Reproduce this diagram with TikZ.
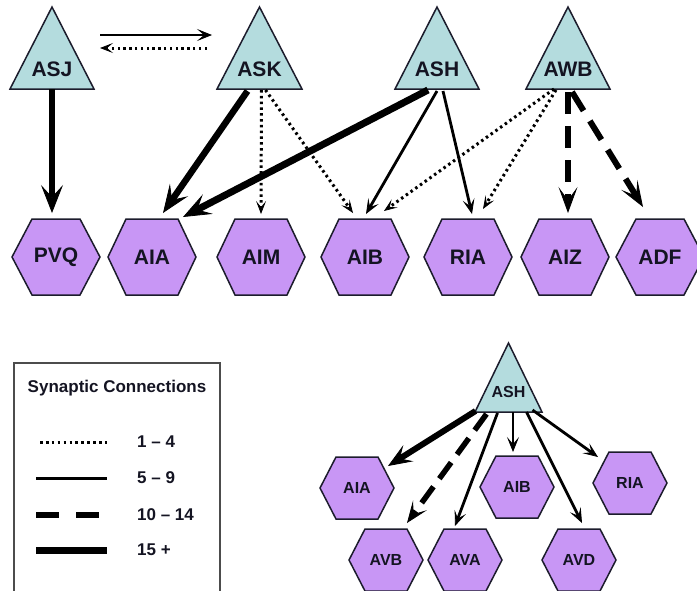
\documentclass[tikz,border=0pt]{standalone}
\usepackage{fontspec}
\setmainfont{Liberation Sans}
\usetikzlibrary{arrows.meta,calc}
\definecolor{trifill}{HTML}{B4DCDE}
\definecolor{hexfill}{HTML}{C896F5}
\definecolor{edgec}{HTML}{1C1C2C}
\definecolor{txtc}{HTML}{141422}
\tikzset{
  boxsty/.style={rectangle, inner sep=0pt, outer sep=0pt, draw=none},
  tristy/.style={fill=trifill, draw=edgec, line width=1.5pt, line join=miter},
  hexsty/.style={fill=hexfill, draw=edgec, line width=1.5pt, line join=miter},
  biglab/.style={font=\fontsize{21}{23}\selectfont\bfseries, text=txtc, inner sep=0pt},
  smalllab/.style={font=\fontsize{16}{18}\selectfont\bfseries, text=txtc, inner sep=0pt},
  leglab/.style={font=\fontsize{17}{19}\selectfont\bfseries, text=txtc, inner sep=0pt},
  conn/.style={draw=black, line cap=butt},
  dotc/.style={conn, line width=3pt, dash pattern=on 2.5pt off 3.3pt, -{Stealth[length=13pt,width=10pt,inset=6pt,line width=0.8pt]}},
  solc/.style={conn, line width=2.8pt, -{Stealth[length=15pt,width=12pt,inset=7pt,line width=0.8pt]}},
  dashc/.style={conn, line width=6pt, dash pattern=on 22pt off 12pt, -{Stealth[length=26pt,width=19pt,inset=13pt,line width=0.8pt]}},
  thickc/.style={conn, line width=6.5pt, -{Stealth[length=28pt,width=22pt,inset=12pt,line width=0.8pt]}},
  solcs/.style={conn, line width=2.8pt, -{Stealth[length=15pt,width=12pt,inset=7pt,line width=0.8pt]}},
  dashcs/.style={conn, line width=5.5pt, dash pattern=on 20pt off 10pt, -{Stealth[length=22pt,width=17pt,inset=11pt,line width=0.8pt]}},
  thickcs/.style={conn, line width=6pt, -{Stealth[length=24pt,width=19pt,inset=10pt,line width=0.8pt]}},
  legdot/.style={line width=3pt, dash pattern=on 2.6pt off 3.3pt},
  legsol/.style={line width=3pt},
  legdash/.style={line width=5.5pt, dash pattern=on 23pt off 17pt},
  legthick/.style={line width=7pt},
}
% #1 name, #2 cx, #3 cy, #4 width, #5 height, #6 text y, #7 label, #8 label style
\newcommand{\mytri}[8]{%
  \node[boxsty, minimum width=#4pt, minimum height=#5pt] (#1) at (#2,#3) {};
  \filldraw[tristy] (#1.south west) -- (#1.north) -- (#1.south east) -- cycle;
  \node[#8] (#1-t) at (#2,#6) {#7};}
% #1 name, #2 cx, #3 cy, #4 half width, #5 half height, #6 top half width, #7 label, #8 label style
\newcommand{\myhex}[8]{%
  \filldraw[hexsty] ({#2-#4},#3) -- ({#2-#6},{#3-#5}) -- ({#2+#6},{#3-#5}) -- ({#2+#4},#3)
     -- ({#2+#6},{#3+#5}) -- ({#2-#6},{#3+#5}) -- cycle;
  \node[boxsty, minimum width={2*#4pt}, minimum height={2*#5pt}, #8] (#1) at (#2,#3) {#7};}
\begin{document}
\begin{tikzpicture}[x=1pt,y=-1pt]
\useasboundingbox (0,0) rectangle (697,590);
\clip (0,0) rectangle (697,590);
% top triangles
\mytri{ASJ}{52}{48}{84}{82}{69}{ASJ}{biglab}
\mytri{ASK}{259.5}{48}{85}{82}{69}{ASK}{biglab}
\mytri{ASH}{437}{48}{84}{82}{69}{ASH}{biglab}
\mytri{AWB}{568}{48}{84}{82}{69}{AWB}{biglab}
% top hexagons
\myhex{PVQ}{56}{257}{44}{38}{24}{PVQ}{biglab}
\myhex{AIA}{152}{257}{44}{38}{26}{AIA}{biglab}
\myhex{AIM}{261}{257}{44}{38}{26}{AIM}{biglab}
\myhex{AIB}{365}{257}{44}{38}{26}{AIB}{biglab}
\myhex{RIA}{468}{257}{44}{38}{26}{RIA}{biglab}
\myhex{AIZ}{565}{257}{44}{38}{26}{AIZ}{biglab}
\myhex{ADF}{660}{257}{44}{38}{24}{ADF}{biglab}
% top connectors
\draw[solc] ($(ASJ.east)+(6,-13)$) -- ($(ASK.west)+(-5,-13)$);
\draw[dotc] ($(ASK.west)+(-10,0)$) -- ($(ASJ.east)+(6,0)$);
\draw[thickc] (ASJ.south) -- ($(ASJ.south |- PVQ.north)+(0,-6)$);
\draw[thickc] ($(ASK.south)+(-12,2)$) -- ($(AIA.north)+(11,-6)$);
\draw[thickc, line width=7pt] ($(ASH.south)+(-9,1)$) -- ($(AIA.north)+(31,-2)$);
\draw[dotc] ($(ASK.south)+(2,1)$) -- ($(AIM.north)+(0,-5)$);
\draw[dotc] ($(ASK.south)+(6,1)$) -- ($(AIB.north)+(-12,-6)$);
\draw[solc] ($(ASH.south)+(0,2)$) -- ($(AIB.north)+(1,-5)$);
\draw[solc] ($(ASH.south)+(6,2)$) -- ($(RIA.north)+(4,-5)$);
\draw[dotc] ($(AWB.south)+(-14,0)$) -- ($(AIB.north)+(19,-8)$);
\draw[dotc] ($(AWB.south)+(-12,1)$) -- ($(RIA.north)+(15,-10)$);
\draw[dashc] ($(AWB.south)+(0,3)$) -- ($(AWB.south |- AIZ.north)+(0,-6)$);
\draw[dashc] ($(AWB.south)+(4,3)$) -- ($(ADF.north)+(-17,-12)$);
% legend
\node[boxsty, draw=black!70, line width=1.4pt, minimum width=206pt, minimum height=240pt] (leg) at (117,483) {};
\node[leglab] (legt) at (117,388) {Synaptic Connections};
\coordinate (d1a) at (40,442); \coordinate (d1b) at (107,442);
\coordinate (d2a) at (36,478); \coordinate (d2b) at (107,478);
\coordinate (d3a) at (36,515); \coordinate (d3b) at (107,515);
\coordinate (d4a) at (36,550); \coordinate (d4b) at (107,550);
\draw[legdot] (d1a) -- (d1b);
\draw[legsol] (d2a) -- (d2b);
\draw[legdash] (d3a) -- (d3b);
\draw[legthick] (d4a) -- (d4b);
\node[leglab, anchor=west] (l1) at (137,442) {1 – 4};
\node[leglab, anchor=west] (l2) at (137,478) {5 – 9};
\node[leglab, anchor=west] (l3) at (137,515) {10 – 14};
\node[leglab, anchor=west] (l4) at (137,550) {15 +};
% lower group
\mytri{ASHb}{508.5}{377.5}{67}{69}{392}{ASH}{smalllab}
\myhex{AIAb}{357}{488}{37}{31}{21}{AIA}{smalllab}
\myhex{AIBb}{517}{487}{37}{31}{21}{AIB}{smalllab}
\myhex{RIAb}{630}{483}{37}{31}{21}{RIA}{smalllab}
\myhex{AVB}{386}{560}{37}{31}{21}{AVB}{smalllab}
\myhex{AVA}{465}{560}{37}{31}{21}{AVA}{smalllab}
\myhex{AVD}{579}{560}{37}{31}{21}{AVD}{smalllab}
\draw[thickcs] ($(ASHb.south)+(-33,-1)$) -- ($(AIAb.north)+(31,9)$);
\draw[dashcs] ($(ASHb.south)+(-22,2)$) -- ($(AVB.north)+(21,-6)$);
\draw[solcs] ($(ASHb.south)+(-11,1)$) -- ($(AVA.north)+(-10,-3)$);
\draw[solcs] ($(ASHb.south)+(4.5,0)$) -- ($(AIBb.north)+(-4,-4)$);
\draw[solcs] ($(ASHb.south)+(18,0)$) -- ($(AVD.north)+(3,-6)$);
\draw[solcs] ($(ASHb.south)+(24,-2)$) -- ($(RIAb.north)+(-32,5)$);
\end{tikzpicture}
\end{document}
